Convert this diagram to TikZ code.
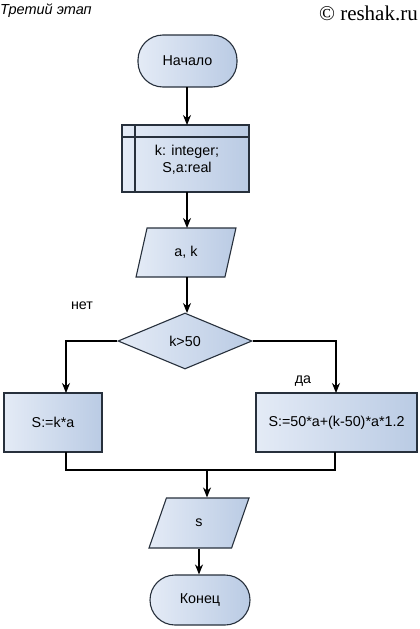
\documentclass[tikz,border=0pt]{standalone}
\usepackage{fontspec}
\setmainfont{Liberation Sans}
\newfontfamily\serifhead{Liberation Serif}
\usetikzlibrary{shapes.geometric,arrows.meta}
\definecolor{edgec}{HTML}{27303C}
\definecolor{fillA}{HTML}{E4EBF6}
\definecolor{fillB}{HTML}{BACBE4}
\tikzset{
  blk/.style={draw=edgec, line width=1.1pt, left color=fillA, right color=fillB,
    inner sep=1pt, font=\fontsize{14.3}{17}\selectfont, align=center},
  term/.style={blk, rectangle, rounded corners=25pt},
  proc/.style={blk, rectangle},
  io/.style={blk, trapezium, trapezium left angle=76, trapezium right angle=104, trapezium stretches=true},
  dec/.style={blk, diamond},
  conn/.style={draw=black, line width=1.1pt, -{Stealth[length=10pt,width=8pt]}},
  line/.style={draw=black, line width=1.1pt},
  lbl/.style={font=\fontsize{14.3}{17}\selectfont}
}
\begin{document}
\begin{tikzpicture}[x=1pt,y=-1pt]
\useasboundingbox (0,0) rectangle (420,629);
\node[anchor=west, inner sep=0pt, font=\fontsize{14.5}{16}\selectfont\itshape] (title) at (0,11) {Третий этап};
\node[anchor=east, inner sep=0pt, font=\serifhead\fontsize{21}{23}\selectfont] (copy) at (418,13) {© reshak.ru};

\node[term, minimum width=99pt, minimum height=52pt] (start) at (187.5,61) {Начало};
\node[proc, minimum width=127pt, minimum height=67pt] (decl) at (185.5,158.5) {};
\draw[line width=1.1pt, draw=edgec] (135,125) -- (135,192);
\draw[line width=1.1pt, draw=edgec] (122,137) -- (249,137);
\node[font=\fontsize{14.3}{17}\selectfont, align=center] (decltxt) at (187,160) {k: integer;\\S,a:real};
\node[io, minimum width=100pt, minimum height=49pt] (in1) at (186,252.5) {a, k};
\node[dec, minimum width=134pt, minimum height=56pt] (cond) at (185,341) {k>50};
\node[proc, minimum width=98pt, minimum height=59pt] (pl) at (53,422.5) {S:=k*a};
\node[proc, minimum width=161pt, minimum height=59pt] (pr) at (336.5,422.5) {S:=50*a+(k-50)*a*1.2};
\node[io, minimum width=100pt, minimum height=50pt] (out) at (199,523) {s};
\node[term, minimum width=100pt, minimum height=50pt] (fin) at (200,600) {Конец};

\node[lbl] (no) at (82,306) {нет};
\node[lbl] (yes) at (303,381) {да};

\coordinate (m) at (207,470);
\coordinate (lt) at (66,393);
\coordinate (rt) at (336,393);

\draw[conn] (187,87) -- (187,125);
\draw[conn] (187,192) -- (187,228);
\draw[conn] (187,277) -- (187,313);
\draw[conn] (cond.west) -| (lt);
\draw[conn] (cond.east) -| (rt);
\draw[line] (66,452) |- (m) -| (335,452);
\draw[conn] (m) -- (m |- out.north);
\draw[conn] (out.south) -- (out.south |- fin.north);
\end{tikzpicture}
\end{document}
